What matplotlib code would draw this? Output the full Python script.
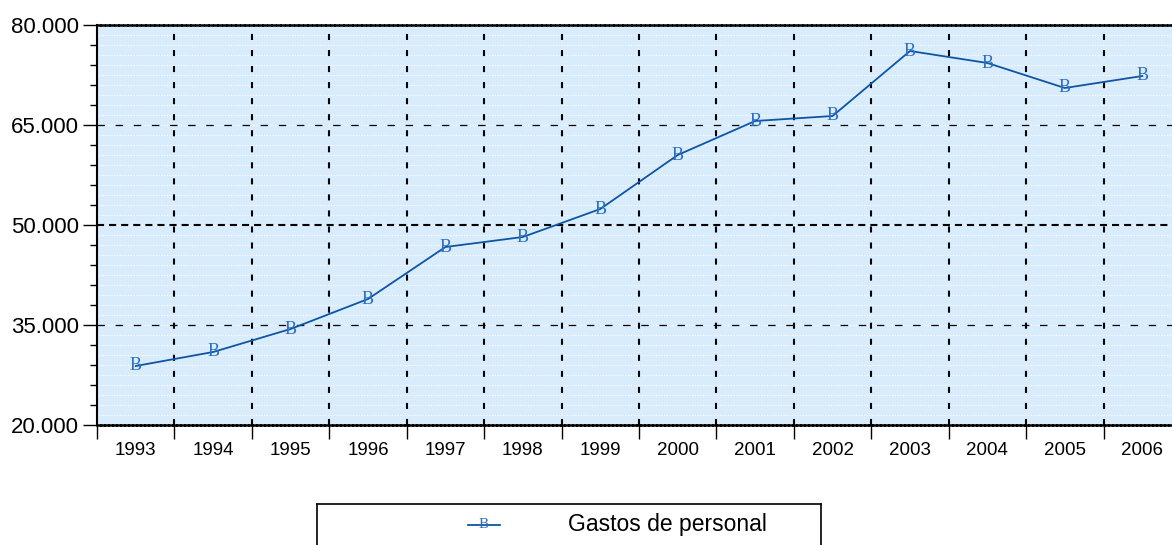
import numpy as np
import matplotlib.pyplot as plt
from matplotlib.ticker import FixedLocator, FuncFormatter

# data
years = ['1993', '1994', '1995', '1996', '1997', '1998', '1999',
         '2000', '2001', '2002', '2003', '2004', '2005', '2006']
gastos = [28850, 30950, 34400, 38900, 46700, 48200, 52400,
          60500, 65600, 66350, 76100, 74300, 70550, 72350]
series_label = 'Gastos de personal'
y_major = [20000, 35000, 50000, 65000, 80000]

plt.rcParams['font.family'] = ['Liberation Sans', 'DejaVu Sans']

fig = plt.figure(figsize=(11.72, 5.45), dpi=100)
ax = fig.add_axes([97 / 1172, 1 - 425 / 545, 1084 / 1172, 400 / 545])
ax.set_facecolor('#d9ecfc')

x = np.arange(len(years))
line_color = '#0d55a5'
ax.plot(x, gastos, color=line_color, lw=1.3, zorder=3)
for xi, yi in zip(x, gastos):
    ax.text(xi, yi, 'B', color='#2f6fc0', family='Liberation Serif',
            fontsize=13, ha='center', va='center', zorder=4)

ax.set_xlim(-0.5, len(years) - 0.5)
ax.set_ylim(20000, 80000)

# y axis
ax.yaxis.set_major_locator(FixedLocator(y_major))
ax.yaxis.set_minor_locator(FixedLocator(np.arange(20000, 80001, 3000)))
ax.yaxis.set_major_formatter(FuncFormatter(lambda v, p: f'{v:,.0f}'.replace(',', '.')))
ax.tick_params(axis='y', which='major', length=10, width=1, labelsize=16, pad=3)
ax.tick_params(axis='y', which='minor', length=5, width=1)

# white dotted fine lines
for v in np.arange(21500, 80000, 1500):
    ax.axhline(v, color='white', lw=0.8, ls=(0, (1, 1.5)), zorder=1)
# dashed black major grid (the middle one is heavier)
ax.axhline(35000, color='black', lw=0.9, ls=(0, (6, 8.5)), zorder=2)
ax.axhline(65000, color='black', lw=0.9, ls=(0, (6, 8.5)), zorder=2)
ax.axhline(50000, color='black', lw=1.5, ls=(0, (3.4, 2.4)), zorder=2)

# x axis: ticks at boundaries, labels at centres
bounds = np.arange(-0.5, len(years), 1.0)
ax.xaxis.set_major_locator(FixedLocator(bounds))
ax.xaxis.set_minor_locator(FixedLocator(x))
ax.set_xticklabels([''] * len(bounds))
ax.set_xticklabels(years, minor=True)
ax.tick_params(axis='x', which='major', length=10, width=1)
ax.tick_params(axis='x', which='minor', length=0, labelsize=13.5, pad=12)
for b in bounds[1:]:
    ax.axvline(b, color='black', lw=1.5, ls=(0, (2.9, 4.8)), zorder=2)

ax.spines['right'].set_visible(False)
ax.spines['left'].set_linewidth(1.5)
ax.spines['bottom'].set_linewidth(1.8)
ax.spines['bottom'].set_linestyle((0, (1, 0.6)))
ax.spines['top'].set_linewidth(1.8)
ax.spines['top'].set_linestyle((0, (1, 0.8)))

# legend box
lax = fig.add_axes([317 / 1172, -0.05, 504 / 1172, 1 - 504 / 545 + 0.05])
lax.set_xlim(0, 1)
lax.set_ylim(0, 1)
lax.set_xticks([])
lax.set_yticks([])
for s in lax.spines.values():
    s.set_linewidth(1.2)
ly = 1 - (525 - 504) / (545 - 504 + 0.05 * 545)
lax.plot([0.30, 0.363], [ly, ly], color=line_color, lw=1.3)
lax.text(0.3315, ly, 'B', color='#2f6fc0', family='Liberation Serif',
         fontsize=11, ha='center', va='center')
lax.text(0.498, ly, series_label, fontsize=16.5, ha='left', va='center')

fig.savefig('out.png', dpi=100)
